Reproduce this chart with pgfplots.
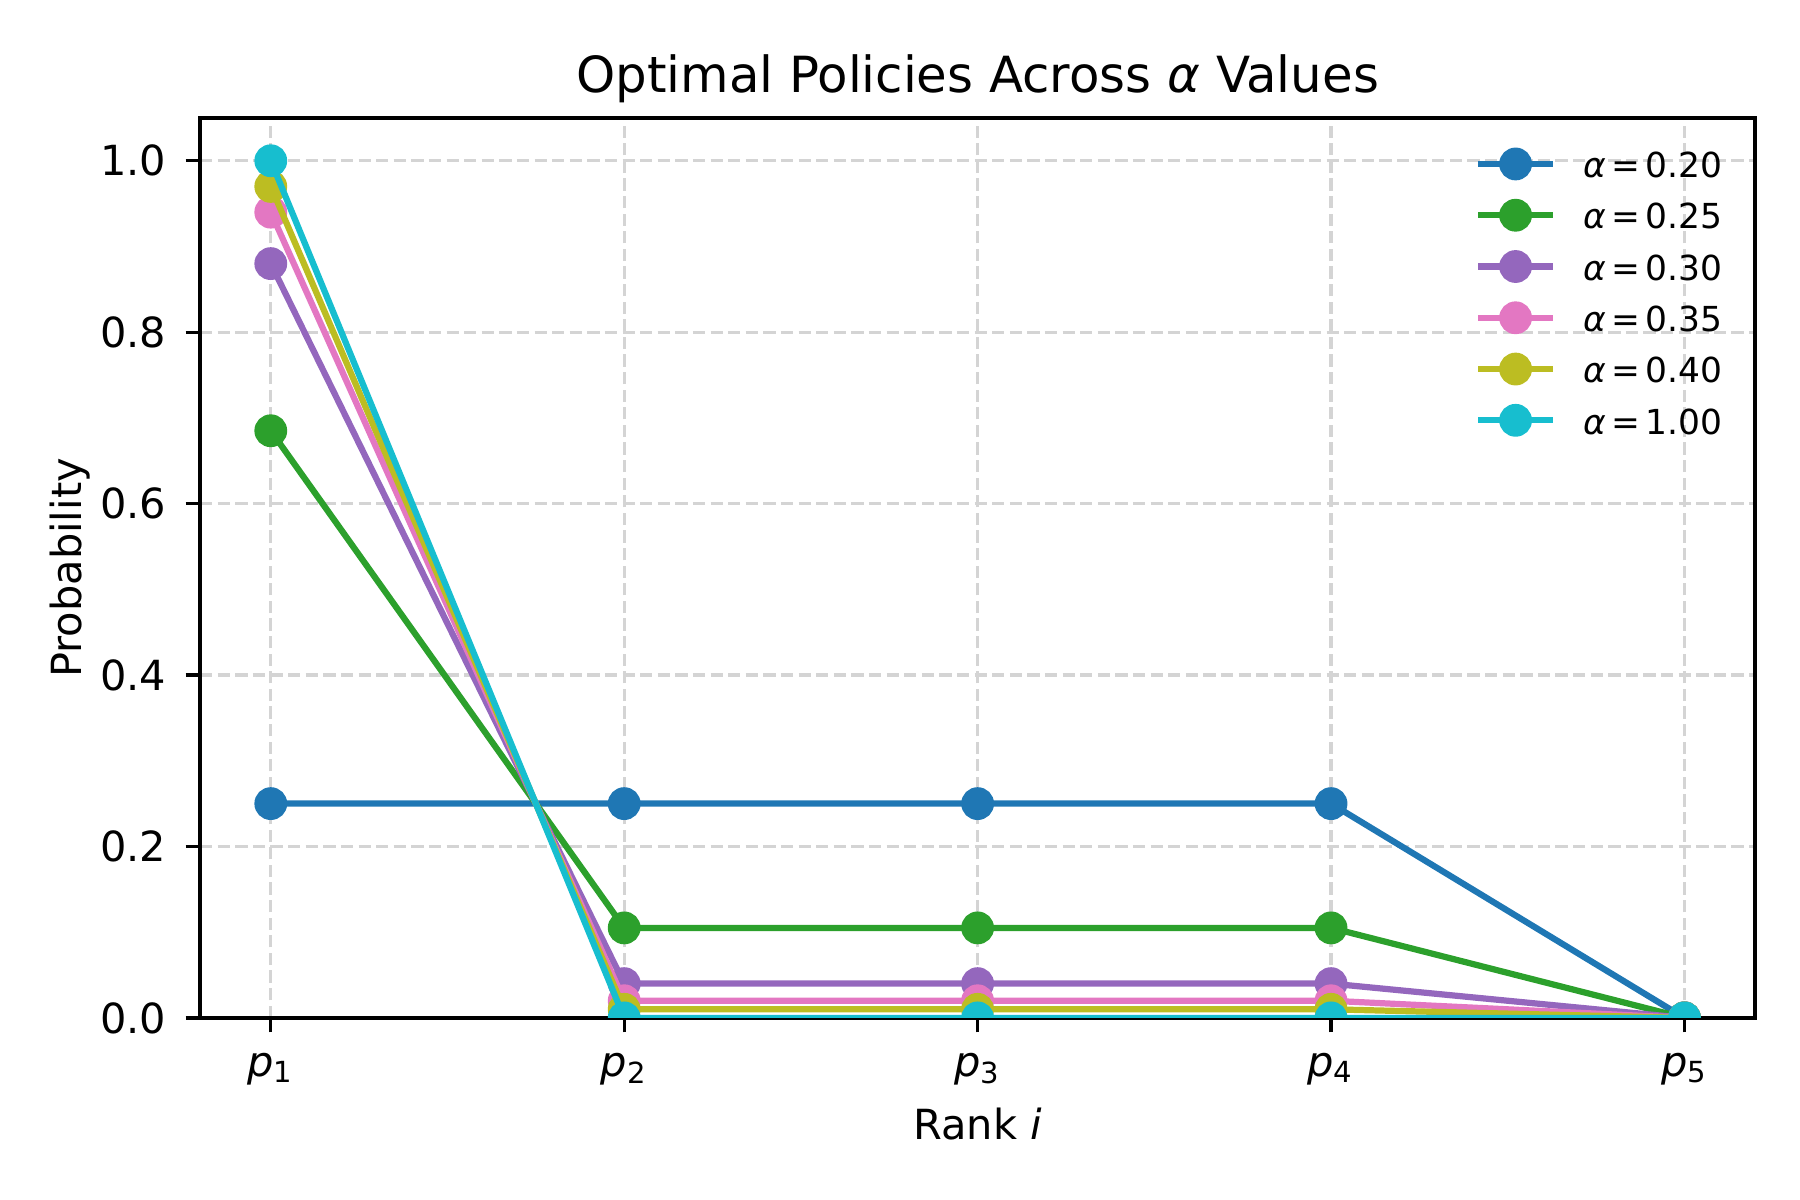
\documentclass[border=0pt]{standalone}
\usepackage{fontspec}
\setmainfont{DejaVu Sans}
\usepackage{pgfplots}
\pgfplotsset{compat=1.18}

\definecolor{tabblue}{HTML}{1F77B4}
\definecolor{tabgreen}{HTML}{2CA02C}
\definecolor{tabpurple}{HTML}{9467BD}
\definecolor{tabpink}{HTML}{E377C2}
\definecolor{tabolive}{HTML}{BCBD22}
\definecolor{tabcyan}{HTML}{17BECF}
\definecolor{gridgray}{RGB}{212,212,212}

\pgfplotsset{
  layers/mylayers/.define layer set={axis background,axis grid,main,axis ticks,axis lines,axis tick labels,axis descriptions,axis foreground}{},
}

\newcommand{\al}[1]{\textit{α}\hspace{1.3pt}=\hspace{1.3pt}#1}

\begin{document}
\begin{tikzpicture}
  \begin{axis}[
    set layers=mylayers,
    scale only axis,
    width=374.6pt, height=216.8pt,
    xmin=-0.2, xmax=4.2,
    ymin=0, ymax=1.05,
    xtick={0,1,2,3,4},
    xticklabels={\textit{p}\textsubscript{1},\textit{p}\textsubscript{2},\textit{p}\textsubscript{3},\textit{p}\textsubscript{4},\textit{p}\textsubscript{5}},
    ytick={0,0.2,0.4,0.6,0.8,1.0},
    yticklabel style={/pgf/number format/fixed, /pgf/number format/fixed zerofill, /pgf/number format/precision=1, /pgf/number format/assume math mode=true},
    tick label style={font=\fontsize{10}{12}\selectfont},
    yticklabel style={anchor=east, inner sep=0pt, xshift=-4.5pt},
    xticklabel style={anchor=base, inner sep=0pt, yshift=-10.5pt},
    tick align=outside,
    xtick pos=bottom, ytick pos=left,
    major tick length=3.5pt,
    every tick/.style={black, line width=0.8pt},
    axis line style={black, line width=0.8pt},
    grid=major,
    major grid style={gridgray, line width=0.8pt, dash pattern=on 2.96pt off 1.28pt},
    title={Optimal Policies Across \textit{α} Values},
    title style={at={(axis description cs:0.5,1)}, anchor=base, yshift=0.2pt, font=\fontsize{12}{14}\selectfont},
    xlabel={Rank \textit{i}},
    xlabel style={at={(axis description cs:0.5,0)}, anchor=base, yshift=-29.4pt, font=\fontsize{10}{12}\selectfont},
    ylabel={Probability},
    ylabel style={at={(axis description cs:-0.0761,0.5)}, rotate=0, anchor=base, font=\fontsize{10}{12}\selectfont},
    clip marker paths=true,
    every axis plot/.append style={line width=1.5pt, mark=*, mark size=3.2pt, mark options={solid, line width=0pt}},
    legend image code/.code={\draw[mark repeat=2,mark phase=2,#1] plot coordinates {(0pt,0pt) (9pt,0pt) (18pt,0pt)};},
    legend style={at={(axis description cs:1,1)}, anchor=north east, xshift=-7.95pt, yshift=-7.8pt,
      draw=none, fill=none, inner sep=0pt, outer sep=0pt, row sep=5.75pt, column sep=6.5pt,
      font=\fontsize{8.3}{10}\selectfont,
      nodes={inner sep=0pt, text height=6.6pt, text depth=0pt, anchor=west}},
  ]
    \addplot[tabblue, mark options={fill=tabblue, draw=tabblue}] coordinates {(0,0.25) (1,0.25) (2,0.25) (3,0.25) (4,0)};
    \addlegendentry{\al{0.20}}
    \addplot[tabgreen, mark options={fill=tabgreen, draw=tabgreen}] coordinates {(0,0.685) (1,0.105) (2,0.105) (3,0.105) (4,0)};
    \addlegendentry{\al{0.25}}
    \addplot[tabpurple, mark options={fill=tabpurple, draw=tabpurple}] coordinates {(0,0.88) (1,0.04) (2,0.04) (3,0.04) (4,0)};
    \addlegendentry{\al{0.30}}
    \addplot[tabpink, mark options={fill=tabpink, draw=tabpink}] coordinates {(0,0.94) (1,0.02) (2,0.02) (3,0.02) (4,0)};
    \addlegendentry{\al{0.35}}
    \addplot[tabolive, mark options={fill=tabolive, draw=tabolive}] coordinates {(0,0.97) (1,0.01) (2,0.01) (3,0.01) (4,0)};
    \addlegendentry{\al{0.40}}
    \addplot[tabcyan, mark options={fill=tabcyan, draw=tabcyan}] coordinates {(0,1.0) (1,0) (2,0) (3,0) (4,0)};
    \addlegendentry{\al{1.00}}
  \end{axis}
  \pgfresetboundingbox
  \path (-48.2pt,-43.8pt) rectangle (385.4pt,245.2pt);
\end{tikzpicture}
\end{document}
